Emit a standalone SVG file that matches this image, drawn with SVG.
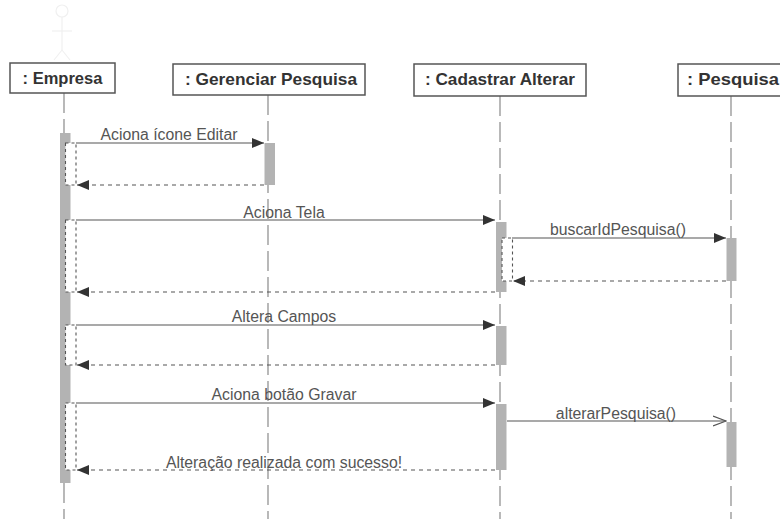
<svg xmlns="http://www.w3.org/2000/svg" width="780" height="519" viewBox="0 0 780 519">
<style>
.box{fill:#fff;stroke:#555;stroke-width:1.5}
.hdr{font-family:"Liberation Sans",Arial,sans-serif;font-weight:bold;font-size:16.5px;fill:#333}
.life{stroke:#8a8a8a;stroke-width:1.2;stroke-dasharray:20,6;fill:none}
.act{fill:#b3b3b3}
.nest{fill:#fff;stroke:#555;stroke-width:1.1;stroke-dasharray:3,3}
.msg{stroke:#555;stroke-width:1.2;fill:none}
.ret{stroke:#555;stroke-width:1.2;fill:none;stroke-dasharray:4,4}
.lbl{font-family:"Liberation Sans",Arial,sans-serif;font-size:15.8px;fill:#555;text-anchor:middle}
.ghost{stroke:#f0f0f0;stroke-width:1.2;fill:none}
</style>
<defs>
<marker id="fill" markerWidth="12" markerHeight="10" refX="12" refY="5" orient="auto" markerUnits="userSpaceOnUse">
<path d="M0,0 L12,5 L0,10 Z" fill="#333"/>
</marker>
<marker id="open" markerWidth="14" markerHeight="12" refX="13" refY="6" orient="auto" markerUnits="userSpaceOnUse">
<path d="M0,1 L13,6 L0,11" fill="none" stroke="#555" stroke-width="1.2"/>
</marker>
</defs>
<rect width="780" height="519" fill="#fff"/>
<g id="ghost">
<circle cx="62" cy="11" r="6" class="ghost"/>
<line x1="62" y1="17" x2="62" y2="50" class="ghost"/>
<line x1="52" y1="31" x2="72" y2="31" class="ghost"/>
<line x1="62" y1="50" x2="54" y2="60" class="ghost"/>
<line x1="62" y1="50" x2="70" y2="60" class="ghost"/>
</g>
<g id="empresa">
<line x1="64" y1="93" x2="64" y2="519" class="life"/>
<rect x="10" y="63" width="105" height="30" class="box"/>
<text x="62.5" y="84" class="hdr" text-anchor="middle">: Empresa</text>
<rect x="60" y="133" width="10.5" height="350" class="act"/>
<rect x="65.5" y="143" width="10.5" height="42" class="nest"/>
<rect x="65.5" y="220" width="10.5" height="72" class="nest"/>
<rect x="65.5" y="325" width="10.5" height="40" class="nest"/>
<rect x="65.5" y="403" width="10.5" height="67" class="nest"/>
</g>
<g id="gerenciar">
<line x1="268" y1="95" x2="268" y2="519" class="life"/>
<rect x="173" y="64" width="192" height="31" class="box"/>
<text x="271" y="85" class="hdr" text-anchor="middle" textLength="172" lengthAdjust="spacingAndGlyphs">: Gerenciar Pesquisa</text>
<rect x="264.5" y="143" width="10.5" height="42" class="act"/>
</g>
<g id="cadastrar">
<line x1="500" y1="96" x2="500" y2="519" class="life"/>
<rect x="414" y="64" width="172" height="32" class="box"/>
<text x="500" y="85" class="hdr" text-anchor="middle" textLength="150" lengthAdjust="spacingAndGlyphs">: Cadastrar Alterar</text>
<rect x="496" y="222" width="10.5" height="70" class="act"/>
<rect x="502" y="238" width="10.5" height="43" class="nest"/>
<rect x="496" y="326" width="10.5" height="39" class="act"/>
<rect x="496" y="404" width="10.5" height="66" class="act"/>
</g>
<g id="pesquisa">
<line x1="731" y1="96" x2="731" y2="519" class="life"/>
<rect x="678" y="64" width="110" height="32" class="box"/>
<text x="687" y="85" class="hdr" textLength="92" lengthAdjust="spacingAndGlyphs">: Pesquisa</text>
<rect x="726.5" y="238" width="10" height="43" class="act"/>
<rect x="726.5" y="422" width="10" height="45" class="act"/>
</g>
<g id="connectors">
<line x1="76" y1="143" x2="264" y2="143" class="msg" marker-end="url(#fill)"/>
<line x1="264" y1="185" x2="77" y2="185" class="ret" marker-end="url(#fill)"/>
<line x1="76" y1="220" x2="495" y2="220" class="msg" marker-end="url(#fill)"/>
<line x1="512" y1="238" x2="726" y2="238" class="msg" marker-end="url(#fill)"/>
<line x1="726" y1="281" x2="513" y2="281" class="ret" marker-end="url(#fill)"/>
<line x1="495" y1="292" x2="77" y2="292" class="ret" marker-end="url(#fill)"/>
<line x1="76" y1="325" x2="495" y2="325" class="msg" marker-end="url(#fill)"/>
<line x1="495" y1="365" x2="77" y2="365" class="ret" marker-end="url(#fill)"/>
<line x1="76" y1="403" x2="495" y2="403" class="msg" marker-end="url(#fill)"/>
<line x1="507" y1="421" x2="726" y2="421" class="msg" marker-end="url(#open)"/>
<line x1="495" y1="470" x2="77" y2="470" class="ret" marker-end="url(#fill)"/>
<text x="169" y="140" class="lbl">Aciona ícone Editar</text>
<text x="284" y="218" class="lbl">Aciona Tela</text>
<text x="618" y="235" class="lbl">buscarIdPesquisa()</text>
<text x="284" y="322" class="lbl">Altera Campos</text>
<text x="284" y="400" class="lbl">Aciona botão Gravar</text>
<text x="616" y="419" class="lbl">alterarPesquisa()</text>
<text x="284" y="468" class="lbl">Alteração realizada com sucesso!</text>
</g>
</svg>
